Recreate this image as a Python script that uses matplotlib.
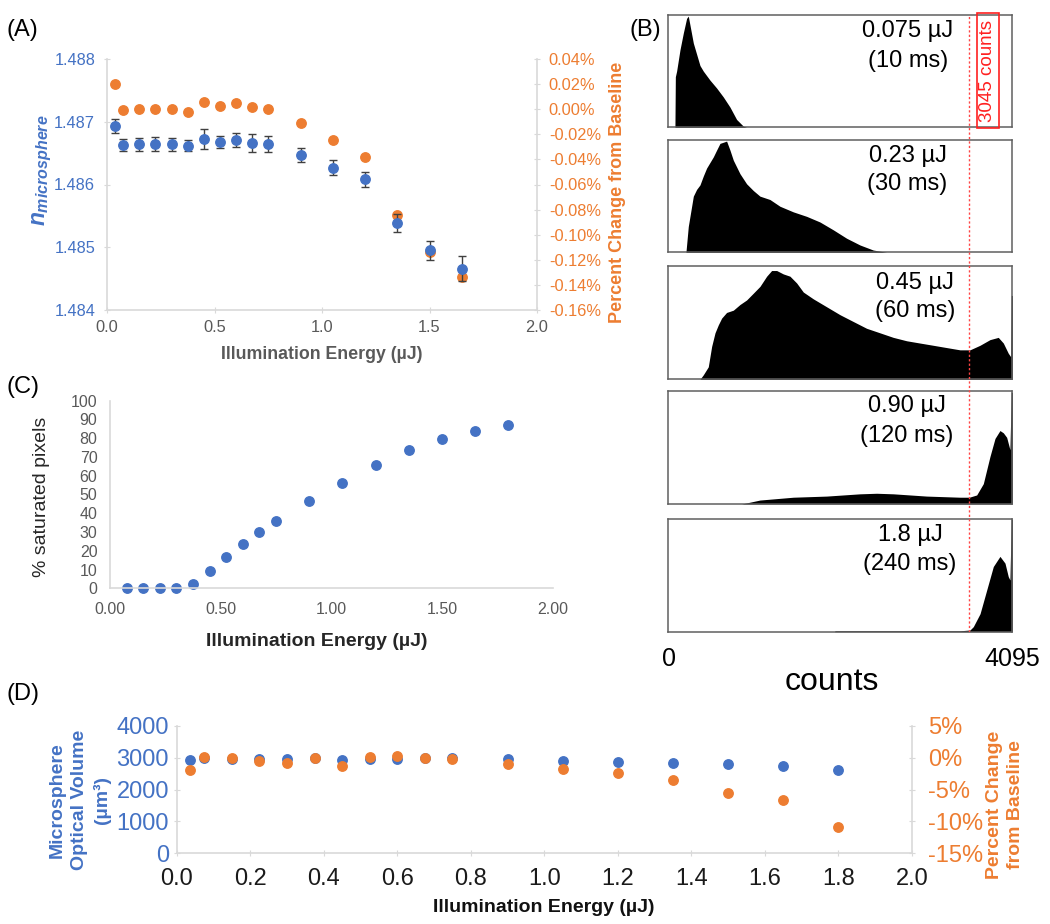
import matplotlib
matplotlib.use('Agg')
import matplotlib.pyplot as plt
from matplotlib.patches import Rectangle
from matplotlib.ticker import MultipleLocator, FuncFormatter, FormatStrFormatter

plt.rcParams['font.family'] = ['Liberation Sans', 'DejaVu Sans']
plt.rcParams['mathtext.fontset'] = 'custom'
plt.rcParams['mathtext.it'] = 'Liberation Sans:italic:bold'
plt.rcParams['mathtext.rm'] = 'Liberation Sans:bold'

W, H = 1050, 924
BLUE = '#4472C4'
ORANGE = '#ED7D31'
AXGREY = '#D9D9D9'
TXTGREY = '#595959'

# ---------------- data ----------------
# Panel A
energy_A = [0.0375, 0.075, 0.15, 0.225, 0.3, 0.375, 0.45, 0.525, 0.6, 0.675, 0.75,
            0.9, 1.05, 1.2, 1.35, 1.5, 1.65]
n_micro = [1.48693, 1.48663, 1.48664, 1.48664, 1.48664, 1.48662, 1.48673, 1.48668,
           1.48671, 1.48666, 1.48665, 1.48647, 1.48627, 1.48608, 1.48539, 1.48495, 1.48466]
n_micro_err = [0.00011, 0.0001, 0.0001, 0.00011, 0.0001, 0.00009, 0.00016, 0.0001,
               0.00011, 0.00014, 0.00013, 0.00011, 0.00012, 0.00012, 0.00014, 0.00015, 0.0002]
pct_change_A = [0.0199, -0.0005, 0.0005, 0.0005, 0.0, -0.0019, 0.0061, 0.0024, 0.0048,
                0.0016, 0.0003, -0.0111, -0.0249, -0.0381, -0.0845, -0.1136, -0.1335]

# Panel C
energy_C = [0.075, 0.15, 0.225, 0.3, 0.375, 0.45, 0.525, 0.6, 0.675, 0.75,
            0.9, 1.05, 1.2, 1.35, 1.5, 1.65, 1.8]
sat_pixels = [0, 0, 0, 0, 2.3, 9.2, 16.7, 23.8, 30.0, 36.1, 46.6, 56.2, 65.7, 73.5,
              79.5, 83.6, 86.9]

# Panel D
energy_D = [0.0375, 0.075, 0.15, 0.225, 0.3, 0.375, 0.45, 0.525, 0.6, 0.675, 0.75,
            0.9, 1.05, 1.2, 1.35, 1.5, 1.65, 1.8]
optical_volume = [2922, 2974, 2961, 2950, 2950, 2980, 2930, 2968, 2968, 2980, 2980,
                  2960, 2903, 2872, 2841, 2789, 2747, 2611]
pct_change_D = [-1.9, 0.06, -0.14, -0.6, -0.87, -0.14, -1.29, 0.12, 0.22, -0.04, -0.2,
                -0.97, -1.84, -2.47, -3.51, -5.49, -6.64, -10.92]

# Panel B histograms (counts, relative frequency)
hist1_counts = [79, 84, 99, 139, 179, 218, 238, 298, 377, 417, 496, 575, 655, 734, 813, 893, 932]
hist1_heights = [0, 0.45, 0.50, 0.69, 0.84, 0.97, 0.99, 0.75, 0.55, 0.50, 0.42, 0.35, 0.27,
                 0.18, 0.07, 0.01, 0]
hist2_counts = [210, 238, 278, 298, 337, 377, 417, 456, 496, 536, 575, 615, 655, 694, 734,
                774, 853, 932, 1012, 1091, 1210, 1329, 1488, 1647, 1805, 1964, 2123, 2282,
                2440, 2599, 2678]
hist2_heights = [0, 0.23, 0.41, 0.50, 0.56, 0.60, 0.68, 0.75, 0.80, 0.85, 0.91, 0.97, 0.98,
                 0.99, 0.91, 0.82, 0.70, 0.61, 0.55, 0.50, 0.47, 0.41, 0.36, 0.32, 0.27,
                 0.20, 0.125, 0.065, 0.02, 0.0, 0.0]
hist3_counts = [377, 417, 476, 516, 556, 595, 635, 694, 774, 853, 932, 1012, 1091, 1171,
                1230, 1290, 1369, 1448, 1528, 1607, 1726, 1885, 2044, 2202, 2361, 2520,
                2678, 2837, 2995, 3155, 3313, 3472, 3591, 3710, 3829, 3928, 3988, 4047,
                4075, 4083, 4095]
hist3_heights = [0, 0.04, 0.11, 0.29, 0.41, 0.48, 0.54, 0.59, 0.61, 0.66, 0.70, 0.76, 0.82,
                 0.91, 0.96, 0.96, 0.93, 0.91, 0.85, 0.77, 0.71, 0.64, 0.57, 0.51, 0.45,
                 0.41, 0.37, 0.34, 0.32, 0.30, 0.28, 0.26, 0.26, 0.30, 0.35, 0.37, 0.32,
                 0.23, 0.20, 0.74, 0.74]
hist4_counts = [873, 1091, 1488, 1885, 2282, 2480, 2678, 3075, 3472, 3583, 3671, 3750, 3829,
                3889, 3948, 3988, 4028, 4067, 4083, 4095]
hist4_heights = [0, 0.035, 0.06, 0.07, 0.09, 0.095, 0.09, 0.07, 0.06, 0.06, 0.08, 0.18,
                 0.42, 0.58, 0.65, 0.63, 0.59, 0.48, 0.99, 0.99]
hist5_counts = [1980, 1984, 3472, 3591, 3631, 3711, 3790, 3869, 3948, 4008, 4047, 4067,
                4083, 4095]
hist5_heights = [0, 0.008, 0.008, 0.015, 0.045, 0.16, 0.37, 0.58, 0.67, 0.61, 0.49, 0.46,
                 1.0, 1.0]
hist_counts = [hist1_counts, hist2_counts, hist3_counts, hist4_counts, hist5_counts]
hist_heights = [hist1_heights, hist2_heights, hist3_heights, hist4_heights, hist5_heights]
hist_energy_labels = ['0.075 µJ', '0.23 µJ', '0.45 µJ', '0.90 µJ', '1.8 µJ']
hist_time_labels = ['(10 ms)', '(30 ms)', '(60 ms)', '(120 ms)', '(240 ms)']
threshold_marker = 3583
threshold_label = '3045 counts'
count_max = 4095

# ---------------- figure ----------------
fig = plt.figure(figsize=(W / 100, H / 100), dpi=100)


def add_ax(x0, y0, x1, y1):
    return fig.add_axes([x0 / W, 1 - y1 / H, (x1 - x0) / W, (y1 - y0) / H])


def ftext(x, y, s, **kw):
    kw.setdefault('ha', 'center')
    kw.setdefault('va', 'center')
    return fig.text(x / W, 1 - y / H, s, **kw)


def pct_fmt(decimals):
    def f(v, p):
        v = round(v, 6)
        if abs(v) < 1e-9:
            v = 0.0
        return f'{v:.{decimals}f}%'
    return FuncFormatter(f)


# ---------- Panel A ----------
axA = add_ax(107, 59, 537, 310)
axA2 = axA.twinx()
axA2.plot(energy_A, pct_change_A, 'o', color=ORANGE, ms=6.8, mec=ORANGE, clip_on=False)
axA.errorbar(energy_A, n_micro, yerr=n_micro_err, fmt='o', color=BLUE, ms=6.8,
             ecolor='#404040', elinewidth=1, capsize=3, capthick=1, clip_on=False)
axA.set_zorder(axA2.get_zorder() + 1)
axA.patch.set_visible(False)
axA.set_xlim(0, 2.0)
axA.set_ylim(1.484, 1.488)
axA2.set_ylim(-0.16, 0.04)
axA.xaxis.set_major_locator(MultipleLocator(0.5))
axA.yaxis.set_major_locator(MultipleLocator(0.001))
axA2.yaxis.set_major_locator(MultipleLocator(0.02))
axA.xaxis.set_major_formatter(FormatStrFormatter('%.1f'))
axA.yaxis.set_major_formatter(FormatStrFormatter('%.3f'))
axA2.yaxis.set_major_formatter(pct_fmt(2))
for s in ['top', 'right']:
    axA.spines[s].set_visible(False)
for s in ['top', 'left', 'bottom']:
    axA2.spines[s].set_visible(False)
for s in ['left', 'bottom']:
    axA.spines[s].set_color(AXGREY)
    axA.spines[s].set_linewidth(1.2)
axA2.spines['right'].set_color(AXGREY)
axA2.spines['right'].set_linewidth(1.2)
axA.tick_params(axis='y', colors=AXGREY, labelcolor=BLUE, direction='inout', length=5,
                labelsize=11.8, pad=6)
axA.tick_params(axis='x', colors=AXGREY, labelcolor=TXTGREY, direction='inout', length=5,
                labelsize=11.8, pad=5)
axA2.tick_params(axis='y', colors=AXGREY, labelcolor=ORANGE, direction='inout', length=5,
                 labelsize=11.8, pad=6)
ftext(42, 170, r'$n_{microsphere}$', rotation=90, color=BLUE, fontsize=16.5)
ftext(618, 192, 'Percent Change from Baseline', rotation=90, color=ORANGE, fontsize=13,
      fontweight='bold')
ftext(322, 354, 'Illumination Energy (µJ)', fontsize=12.8, fontweight='bold', color=TXTGREY)
ftext(22, 30, '(A)', fontsize=17)

# ---------- Panel C ----------
axC = add_ax(110, 400.7, 552.7, 588.3)
axC.plot(energy_C, sat_pixels, 'o', color=BLUE, ms=6.8, clip_on=False)
axC.set_xlim(0, 2.0)
axC.set_ylim(0, 100)
axC.xaxis.set_major_locator(MultipleLocator(0.5))
axC.yaxis.set_major_locator(MultipleLocator(10))
axC.xaxis.set_major_formatter(FormatStrFormatter('%.2f'))
for s in ['top', 'right']:
    axC.spines[s].set_visible(False)
for s in ['left', 'bottom']:
    axC.spines[s].set_color(AXGREY)
    axC.spines[s].set_linewidth(1.2)
axC.tick_params(axis='both', length=0, labelcolor=TXTGREY, labelsize=11.5)
axC.tick_params(axis='y', pad=9)
axC.tick_params(axis='x', pad=10)
ftext(42, 497, '% saturated pixels', rotation=90, fontsize=14, color='#262626')
ftext(317, 642, 'Illumination Energy (µJ)', fontsize=14, fontweight='bold', color='#262626')
ftext(23, 387, '(C)', fontsize=17)

# ---------- Panel D ----------
axD = add_ax(176.7, 725.7, 912, 853.3)
axD2 = axD.twinx()
axD.plot(energy_D, optical_volume, 'o', color=BLUE, ms=6.8, clip_on=False)
axD2.plot(energy_D, pct_change_D, 'o', color=ORANGE, ms=6.8, clip_on=False)
axD.set_xlim(0, 2.0)
axD.set_ylim(0, 4000)
axD2.set_ylim(-15, 5)
axD.xaxis.set_major_locator(MultipleLocator(0.2))
axD.yaxis.set_major_locator(MultipleLocator(1000))
axD2.yaxis.set_major_locator(MultipleLocator(5))
axD.xaxis.set_major_formatter(FormatStrFormatter('%.1f'))
axD2.yaxis.set_major_formatter(pct_fmt(0))
for s in ['top', 'right']:
    axD.spines[s].set_visible(False)
for s in ['top', 'left', 'bottom']:
    axD2.spines[s].set_visible(False)
for s in ['left', 'bottom']:
    axD.spines[s].set_color(AXGREY)
    axD.spines[s].set_linewidth(1.2)
axD2.spines['right'].set_color(AXGREY)
axD2.spines['right'].set_linewidth(1.2)
axD.tick_params(axis='y', colors=AXGREY, labelcolor=BLUE, direction='inout', length=5,
                labelsize=17, pad=3)
axD.tick_params(axis='x', colors=AXGREY, labelcolor='#1a1a1a', direction='inout', length=5,
                labelsize=17, pad=8)
axD2.tick_params(axis='y', colors=AXGREY, labelcolor=ORANGE, direction='inout', length=5,
                 labelsize=17, pad=9)
ftext(80, 800, 'Microsphere\nOptical Volume\n(µm³)', rotation=90, fontsize=14,
      fontweight='bold', color=BLUE, multialignment='center', linespacing=1.4)
ftext(1005, 805, 'Percent Change\nfrom Baseline', rotation=90, fontsize=14,
      fontweight='bold', color=ORANGE, multialignment='center', linespacing=1.3)
ftext(544, 907, 'Illumination Energy (µJ)', fontsize=14, fontweight='bold', color='#111111')
ftext(23, 694, '(D)', fontsize=17)

# ---------- Panel B ----------
box_x0, box_x1 = 668.3, 1012.3
box_tops = [15, 140, 266, 391, 519.3]
box_bottoms = [127.3, 252.3, 379.3, 504, 631.7]
label_x = [908, 907.5, 915, 907, 910]
label_y1 = [31, 156, 283, 406, 535]
label_y2 = [61, 184, 311, 436, 564]
for i in range(5):
    ax = add_ax(box_x0, box_tops[i], box_x1, box_bottoms[i])
    ax.fill_between(hist_counts[i], hist_heights[i], 0, color='black', lw=0)
    ax.set_xlim(0, count_max)
    ax.set_ylim(0, 1)
    ax.set_xticks([])
    ax.set_yticks([])
    for s in ax.spines.values():
        s.set_color('#5f5f5f')
        s.set_linewidth(1.1)
    ftext(label_x[i], label_y1[i], hist_energy_labels[i], fontsize=17)
    ftext(label_x[i], label_y2[i], hist_time_labels[i], fontsize=17)

overlay = add_ax(box_x0, box_tops[0], box_x1, box_bottoms[-1])
overlay.axis('off')
overlay.set_xlim(0, count_max)
overlay.set_ylim(0, 1)
overlay.axvline(threshold_marker, color='#FF4444', lw=1.0, ls=(0, (1.6, 1.6)))

fig.patches.append(Rectangle((976.7 / W, 1 - 128.3 / H), (999 - 976.7) / W,
                             (128.3 - 13.3) / H, transform=fig.transFigure, fill=False,
                             edgecolor='#FF2020', lw=1.2, zorder=10))
ftext(988, 71, threshold_label, rotation=90, fontsize=13.5, color='#FF2020', zorder=11)

ftext(669, 659, '0', fontsize=18)
ftext(1012, 659, str(count_max), fontsize=18)
ftext(832, 682, 'counts', fontsize=23)
ftext(645, 30, '(B)', fontsize=17)

fig.savefig('out.png', dpi=100)
